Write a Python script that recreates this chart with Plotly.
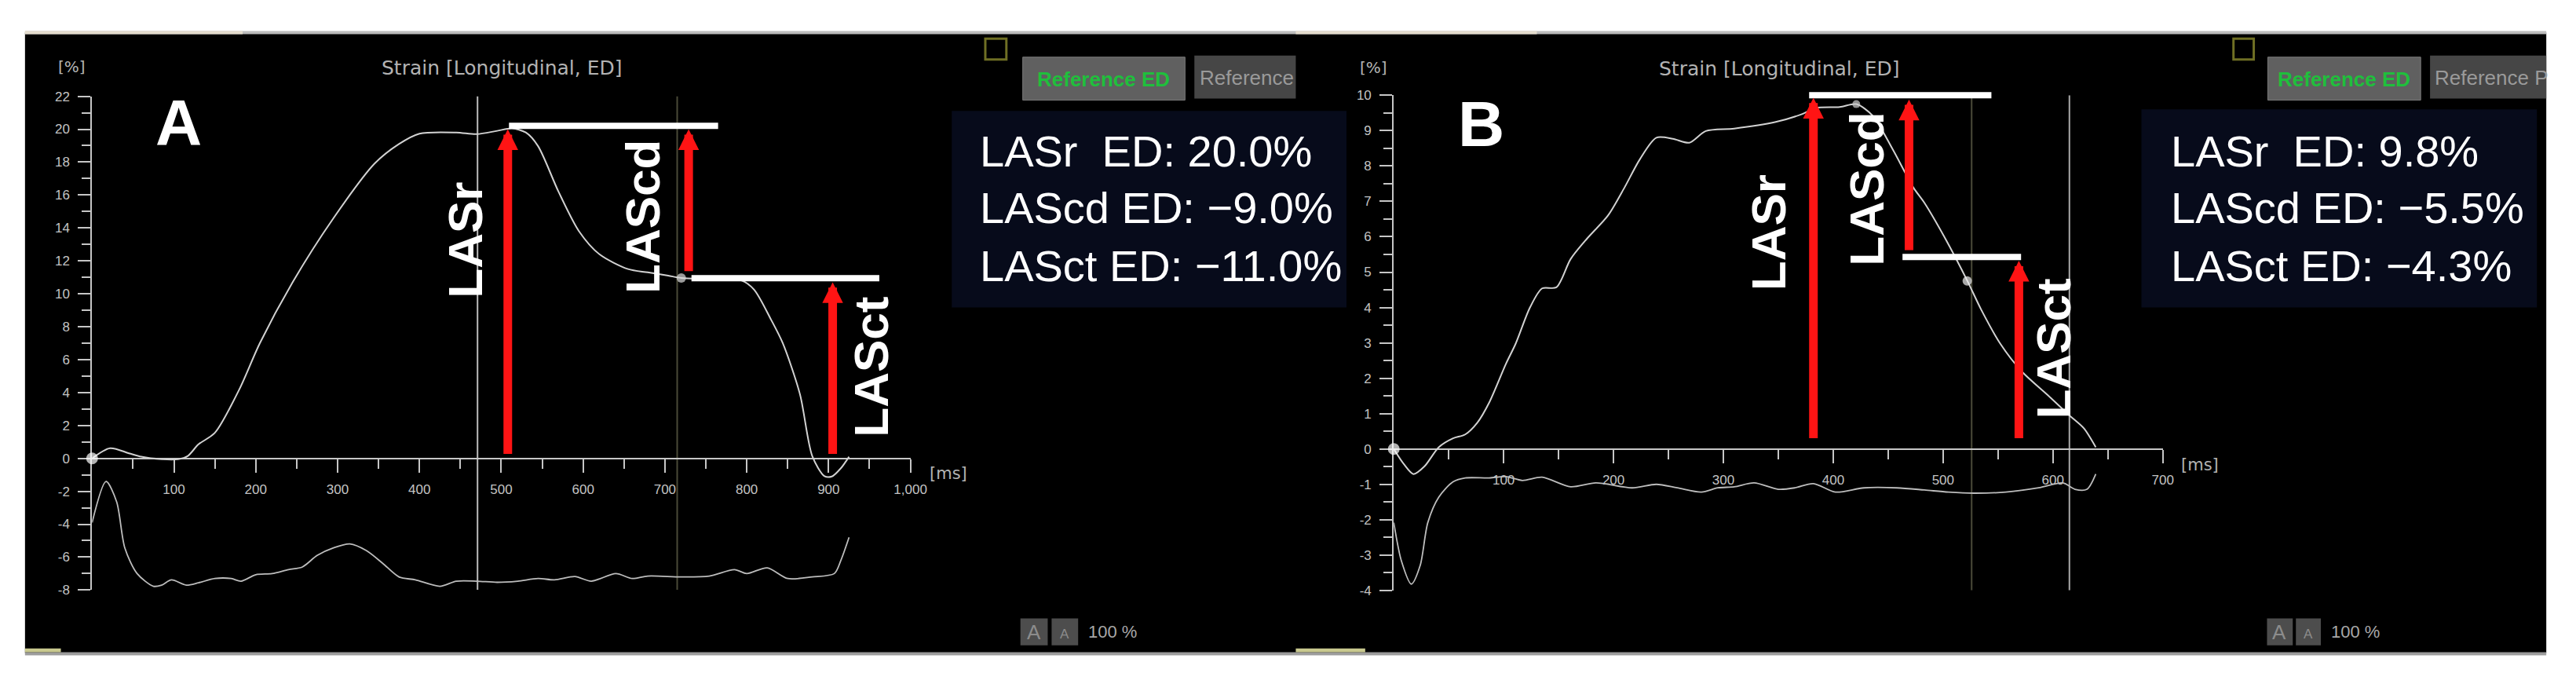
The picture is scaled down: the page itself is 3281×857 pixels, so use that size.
import plotly.graph_objects as go

W, H = 3281, 857

# ------------------------------------------------------------------ data
# Panel A : strain curve (ms, %)
tA_strain = [0, 22, 45, 60, 85, 105, 117, 130, 150, 180, 205, 245, 295, 345, 375, 400,
             445, 470, 495, 513, 530, 545, 570, 595, 620, 655, 679, 704, 720, 754, 794,
             809, 830, 844, 865, 880, 895, 904, 915, 925]
sA_strain = [0, 0.62, 0.31, 0.1, -0.05, -0.05, 0.15, 0.85, 1.55, 4.2, 7.0, 10.7, 14.6, 17.9,
             19.1, 19.73, 19.8, 19.7, 19.9, 20.05, 19.8, 18.97, 16.2, 13.8, 12.4, 11.5, 11.3,
             11.1, 10.96, 10.9, 10.8, 10.25, 8.4, 7.0, 3.9, 0.15, -1.08, -1.1, -0.6, 0.1]
# Panel A : lower (rate) trace
tA_rate = [0, 17, 30, 40, 55, 75, 85, 97, 115, 130, 150, 170, 182, 200, 220, 240, 257, 275,
           295, 315, 335, 355, 375, 395, 425, 445, 470, 495, 520, 545, 565, 590, 610, 640,
           660, 679, 720, 754, 785, 800, 825, 850, 880, 907, 915, 925]
rA_rate = [-3.9, -1.4, -2.64, -5.44, -7.0, -7.77, -7.7, -7.38, -7.7, -7.56, -7.3, -7.3, -7.46,
           -7.07, -7.0, -6.76, -6.6, -5.9, -5.44, -5.2, -5.6, -6.37, -7.2, -7.38, -7.77, -7.46,
           -7.46, -7.53, -7.46, -7.3, -7.38, -7.18, -7.46, -7.0, -7.3, -7.15, -7.2, -7.15,
           -6.76, -7.0, -6.65, -7.3, -7.2, -7.0, -6.2, -4.8]
A_dot_t = [0, 720]
A_dot_v = [0, 10.96]
A_cursor_t = [471, 715]
A_bar_t0 = [508, 731]
A_bar_t1 = [765, 962]
A_bar_v = [20.2, 10.95]
A_arrow_t = [508, 729, 905]
A_arrow_from = [0.2, 11.3, 0.2]
A_arrow_to = [20.0, 20.0, 10.7]
A_xtickvals = [100, 200, 300, 400, 500, 600, 700, 800, 900, 1000]
A_xticktext = ["100", "200", "300", "400", "500", "600", "700", "800", "900", "1,000"]
A_xminor = [50, 150, 250, 350, 450, 550, 650, 750, 850, 950]
A_ytickvals = [22, 20, 18, 16, 14, 12, 10, 8, 6, 4, 2, 0, -2, -4, -6, -8]
A_yticktext = ["22", "20", "18", "16", "14", "12", "10", "8", "6", "4", "2", "0", "-2", "-4", "-6", "-8"]
A_yminor = [21, 19, 17, 15, 13, 11, 9, 7, 5, 3, 1, -1, -3, -5, -7]
A_info = ["LASr\u00a0 ED: 20.0%", "LAScd ED: \u22129.0%", "LASct ED: \u221211.0%"]

# Panel B
tB_strain = [0, 9, 18, 28, 41, 54, 65, 76, 87, 102, 111, 124, 135, 148, 161, 176, 195, 210,
             224, 239, 254, 269, 284, 310, 347, 371, 384, 406, 421, 436, 454, 473, 483, 502,
             522, 535, 552, 572, 595, 615, 628, 639]
sB_strain = [0, -0.42, -0.71, -0.49, 0.05, 0.30, 0.41, 0.74, 1.32, 2.4, 2.98, 4.0, 4.54, 4.57,
             5.37, 5.95, 6.6, 7.39, 8.19, 8.8, 8.77, 8.66, 8.99, 9.06, 9.24, 9.46, 9.64, 9.67,
             9.75, 9.42, 8.48, 7.39, 6.96, 5.95, 4.76, 3.92, 2.98, 2.18, 1.53, 0.95, 0.59, 0.05]
tB_rate = [0, 7, 16, 24, 31, 41, 54, 65, 87, 102, 117, 135, 161, 184, 217, 239, 258, 280, 295,
           310, 328, 350, 365, 382, 402, 428, 458, 483, 505, 528, 557, 587, 609, 620, 631, 639]
rB_rate = [-2.08, -3.17, -3.82, -3.3, -2.08, -1.36, -0.93, -0.82, -0.82, -0.78, -0.89, -0.8,
           -1.07, -0.96, -1.1, -1.0, -1.1, -1.22, -1.1, -1.07, -0.96, -1.14, -1.1, -0.98, -1.22,
           -1.1, -1.1, -1.16, -1.22, -1.25, -1.22, -1.1, -0.96, -1.14, -1.14, -0.71]
B_dot_t = [0, 421, 522]
B_dot_v = [0, 9.75, 4.75]
B_cursor_t = [526, 615]
B_bar_t0 = [377, 462]
B_bar_t1 = [544, 571]
B_bar_v = [10.0, 5.43]
B_arrow_t = [382, 469, 569]
B_arrow_from = [0.27, 5.59, 0.27]
B_arrow_to = [9.93, 9.88, 5.32]
B_xtickvals = [100, 200, 300, 400, 500, 600, 700]
B_xticktext = ["100", "200", "300", "400", "500", "600", "700"]
B_xminor = [50, 150, 250, 350, 450, 550, 650]
B_ytickvals = [10, 9, 8, 7, 6, 5, 4, 3, 2, 1, 0, -1, -2, -3, -4]
B_yticktext = ["10", "9", "8", "7", "6", "5", "4", "3", "2", "1", "0", "-1", "-2", "-3", "-4"]
B_yminor = [9.5, 8.5, 7.5, 6.5, 5.5, 4.5, 3.5, 2.5, 1.5, 0.5, -0.5, -1.5, -2.5, -3.5]
B_info = ["LASr\u00a0 ED: 9.8%", "LAScd ED: \u22125.5%", "LASct ED: \u22124.3%"]

LABELS = ["LASr", "LAScd", "LASct"]

# ------------------------------------------------------------------ helpers
def PX(x):
    return x / W


def PY(y):
    return 1 - y / H


AX = "#c6c6c6"
TXT = "#c4c4c4"
TICKF = "Liberation Sans, Arial, sans-serif"
GUIF = "DejaVu Sans, Verdana, sans-serif"
BOLDF = "Liberation Sans, Arial, sans-serif"
RED = "#ff1414"

# panel geometry (pixels)
A_x0, A_x1, A_xr = 110, 1159, [0, 1000]
A_ytop, A_ybot, A_yr = 108, 751, [-8, 22]
B_x0, B_x1, B_xr = 1778.6, 2764.4, [0, 700]
B_ytop, B_ybot, B_yr = 106.7, 751.5, [-4, 10]


def zero_pos(ytop, ybot, yr):
    d0, d1 = PY(ybot), PY(ytop)
    return d0 + (0 - yr[0]) / (yr[1] - yr[0]) * (d1 - d0)


def xaxis_cfg(x0, x1, rng, pos, tv, tt, mv):
    return dict(domain=[PX(x0), PX(x1)], range=rng, anchor="free", position=pos,
                showgrid=False, zeroline=False, showline=True, linecolor=AX, linewidth=2,
                ticks="outside", ticklen=17, tickwidth=2, tickcolor=AX,
                tickmode="array", tickvals=tv, ticktext=tt, layer="below traces",
                tickfont=dict(family=TICKF, size=17, color=TXT), ticklabelstandoff=7,
                minor=dict(tickmode="array", tickvals=mv, ticks="outside", ticklen=12,
                           tickwidth=2, tickcolor=AX, showgrid=False),
                fixedrange=True)


def yaxis_cfg(ytop, ybot, rng, anchor, tv, tt, mv):
    return dict(domain=[PY(ybot), PY(ytop)], range=rng, anchor=anchor, side="left",
                showgrid=False, zeroline=False, showline=True, linecolor=AX, linewidth=2,
                ticks="outside", ticklen=16, tickwidth=2, tickcolor=AX,
                tickmode="array", tickvals=tv, ticktext=tt, layer="below traces",
                tickfont=dict(family=TICKF, size=17, color=TXT), ticklabelstandoff=7,
                minor=dict(tickmode="array", tickvals=mv, ticks="outside", ticklen=11,
                           tickwidth=2, tickcolor=AX, showgrid=False),
                fixedrange=True)


fig = go.Figure()

# ------------------------------------------------------------------ traces
line_main = dict(color="#d2d2d2", width=2, shape="spline", smoothing=0.8)
line_rate = dict(color="#bdbdbd", width=1.8, shape="spline", smoothing=0.8)
fig.add_trace(go.Scatter(x=tA_rate, y=rA_rate, mode="lines", line=line_rate, xaxis="x", yaxis="y",
                         hoverinfo="skip"))
fig.add_trace(go.Scatter(x=tA_strain, y=sA_strain, mode="lines", line=line_main, xaxis="x", yaxis="y",
                         hoverinfo="skip"))
fig.add_trace(go.Scatter(x=tB_rate, y=rB_rate, mode="lines", line=line_rate, xaxis="x2", yaxis="y2",
                         hoverinfo="skip"))
fig.add_trace(go.Scatter(x=tB_strain, y=sB_strain, mode="lines", line=line_main, xaxis="x2", yaxis="y2",
                         hoverinfo="skip"))
fig.add_trace(go.Scatter(x=A_dot_t, y=A_dot_v, mode="markers", xaxis="x", yaxis="y", cliponaxis=False,
                         marker=dict(size=[15, 12], color=["#ffffff", "#dcdcdc"], line=dict(width=0)),
                         hoverinfo="skip"))
fig.add_trace(go.Scatter(x=B_dot_t, y=B_dot_v, mode="markers", xaxis="x2", yaxis="y2", cliponaxis=False,
                         marker=dict(size=[15, 10, 12], color=["#ffffff", "#cfcfcf", "#eeeeee"],
                                     line=dict(width=0)),
                         hoverinfo="skip"))

# ------------------------------------------------------------------ shapes
shapes = []
shapes.append(dict(type="rect", xref="paper", yref="paper", x0=PX(24), x1=PX(3256), y0=PY(833),
                   y1=PY(25), fillcolor="#000000", line=dict(width=0), layer="below"))
shapes.append(dict(type="rect", xref="paper", yref="paper", x0=PX(24), x1=PX(3256), y0=PY(27),
                   y1=PY(23), fillcolor="#bcbcbc", line=dict(width=0), layer="below"))
for a, b in [(24, 303), (1653, 1962)]:
    shapes.append(dict(type="rect", xref="paper", yref="paper", x0=PX(a), x1=PX(b), y0=PY(27),
                       y1=PY(23), fillcolor="#e4dccd", line=dict(width=0), layer="below"))
shapes.append(dict(type="rect", xref="paper", yref="paper", x0=PX(24), x1=PX(3256), y0=PY(836),
                   y1=PY(832), fillcolor="#9c9c9c", line=dict(width=0), layer="below"))
for a, b in [(24, 70), (1653, 1742)]:
    shapes.append(dict(type="rect", xref="paper", yref="paper", x0=PX(a), x1=PX(b), y0=PY(832),
                       y1=PY(827), fillcolor="#c9c98f", line=dict(width=0), layer="below"))
for a, b, t in [(1212, 1718, 127), (2737, 3244, 125)]:
    shapes.append(dict(type="rect", xref="paper", yref="paper", x0=PX(a), x1=PX(b), y0=PY(383),
                       y1=PY(t), fillcolor="#070b1b", line=dict(width=0), layer="below"))
for a, b in [(1255, 1282), (2855, 2881)]:
    shapes.append(dict(type="rect", xref="paper", yref="paper", x0=PX(a), x1=PX(b), y0=PY(60),
                       y1=PY(33), fillcolor="rgba(0,0,0,0)", line=dict(color="#6f6f24", width=3),
                       layer="below"))
for a, b in [(1303, 1511), (2899, 3095)]:
    shapes.append(dict(type="rect", xref="paper", yref="paper", x0=PX(a), x1=PX(b), y0=PY(113),
                       y1=PY(57), fillcolor="#606060", line=dict(color="#7a7a7a", width=1),
                       layer="below"))
for a, b in [(1523, 1653), (3107, 3256)]:
    shapes.append(dict(type="rect", xref="paper", yref="paper", x0=PX(a), x1=PX(b), y0=PY(111),
                       y1=PY(55), fillcolor="#464646", line=dict(width=0), layer="below"))
for a, b in [(1300, 1335), (1340, 1374), (2898, 2931), (2935, 2967)]:
    shapes.append(dict(type="rect", xref="paper", yref="paper", x0=PX(a), x1=PX(b), y0=PY(823),
                       y1=PY(788), fillcolor="#4d4d4d", line=dict(width=0), layer="below"))

for t, col in zip(A_cursor_t, ["#bdbdbd", "#4a4a38"]):
    shapes.append(dict(type="line", xref="x", yref="y", x0=t, x1=t, y0=A_yr[0], y1=A_yr[1],
                       line=dict(color=col, width=2), layer="below"))
for t, col in zip(B_cursor_t, ["#4a4a38", "#a9a9a9"]):
    shapes.append(dict(type="line", xref="x2", yref="y2", x0=t, x1=t, y0=B_yr[0], y1=B_yr[1],
                       line=dict(color=col, width=2), layer="below"))

# ------------------------------------------------------------------ annotations
ann = []


def txt(x, y, s, size, color, family, xanchor="center", angle=0):
    ann.append(dict(xref="paper", yref="paper", x=PX(x), y=PY(y), text=s, showarrow=False,
                    xanchor=xanchor, yanchor="middle", textangle=angle,
                    font=dict(family=family, size=size, color=color)))


def seg(xr, yr, x0, y0, x1, y1, width, color, head):
    ann.append(dict(xref=xr, yref=yr, axref=xr, ayref=yr, x=x1, y=y1, ax=x0, ay=y0, text="",
                    showarrow=True, arrowhead=head, arrowsize=0.48 if head else 1,
                    arrowwidth=width, arrowcolor=color, standoff=0, startstandoff=0))


# white level bars (head-less arrows, not clipped at the axis top)
for t0, t1, v in zip(A_bar_t0, A_bar_t1, A_bar_v):
    seg("x", "y", t0, v, t1, v, 8, "#ffffff", 0)
for t0, t1, v in zip(B_bar_t0, B_bar_t1, B_bar_v):
    seg("x2", "y2", t0, v, t1, v, 8, "#ffffff", 0)
# red arrows
for t, v0, v1 in zip(A_arrow_t, A_arrow_from, A_arrow_to):
    seg("x", "y", t, v0, t, v1, 11, RED, 2)
for t, v0, v1 in zip(B_arrow_t, B_arrow_from, B_arrow_to):
    seg("x2", "y2", t, v0, t, v1, 11, RED, 2)

txt(635, 71, "Strain [Longitudinal, ED]", 25, "#b3b3b3", GUIF)
txt(2273, 72, "Strain [Longitudinal, ED]", 25, "#b3b3b3", GUIF)
txt(84, 70, "[%]", 20, "#b3b3b3", GUIF)
txt(1753, 71, "[%]", 20, "#b3b3b3", GUIF)
txt(1208, 599, "[ms]", 21, "#b3b3b3", GUIF)
txt(2812, 588, "[ms]", 21, "#b3b3b3", GUIF)

txt(221, 142, "<b>A</b>", 82, "#ffffff", BOLDF)
txt(1891, 144, "<b>B</b>", 82, "#ffffff", BOLDF)

for (x, y), s in zip([(588, 295), (815, 265), (1109, 460)], LABELS):
    txt(x, y, "<b>%s</b>" % s, 62, "#ffffff", BOLDF, angle=-90)
for (x, y), s in zip([(2259, 286), (2385, 229), (2624, 437)], LABELS):
    txt(x, y, "<b>%s</b>" % s, 62, "#ffffff", BOLDF, angle=-90)

for yy, s in zip([179, 253, 329], A_info):
    txt(1246, yy, s, 56, "#ffffff", BOLDF, xanchor="left")
for yy, s in zip([179, 253, 329], B_info):
    txt(2773, yy, s, 56, "#ffffff", BOLDF, xanchor="left")

txt(1407, 86, "<b>Reference ED</b>", 26, "#1fbf3c", TICKF)
txt(2997, 86, "<b>Reference ED</b>", 26, "#1fbf3c", TICKF)
txt(1528, 84, "Reference", 26, "#9a9a9a", TICKF, xanchor="left")
txt(3111, 84, "Reference P", 26, "#9a9a9a", TICKF, xanchor="left")

for a, b, c in [(1317, 1357, 1385), (2914, 2951, 2978)]:
    txt(a, 806, "A", 26, "#8c8c8c", TICKF)
    txt(b, 808, "A", 17, "#8c8c8c", TICKF)
    txt(c, 805, "100 %", 22, "#a8a8a8", TICKF, xanchor="left")

# ------------------------------------------------------------------ layout
fig.update_layout(
    width=W, height=H, margin=dict(l=0, r=0, t=0, b=0, pad=0),
    paper_bgcolor="#ffffff", plot_bgcolor="rgba(0,0,0,0)", showlegend=False,
    xaxis=xaxis_cfg(A_x0, A_x1, A_xr, zero_pos(A_ytop, A_ybot, A_yr), A_xtickvals, A_xticktext, A_xminor),
    yaxis=yaxis_cfg(A_ytop, A_ybot, A_yr, "x", A_ytickvals, A_yticktext, A_yminor),
    xaxis2=xaxis_cfg(B_x0, B_x1, B_xr, zero_pos(B_ytop, B_ybot, B_yr), B_xtickvals, B_xticktext, B_xminor),
    yaxis2=yaxis_cfg(B_ytop, B_ybot, B_yr, "x2", B_ytickvals, B_yticktext, B_yminor),
    shapes=shapes, annotations=ann,
)

fig.write_html("out.html")
